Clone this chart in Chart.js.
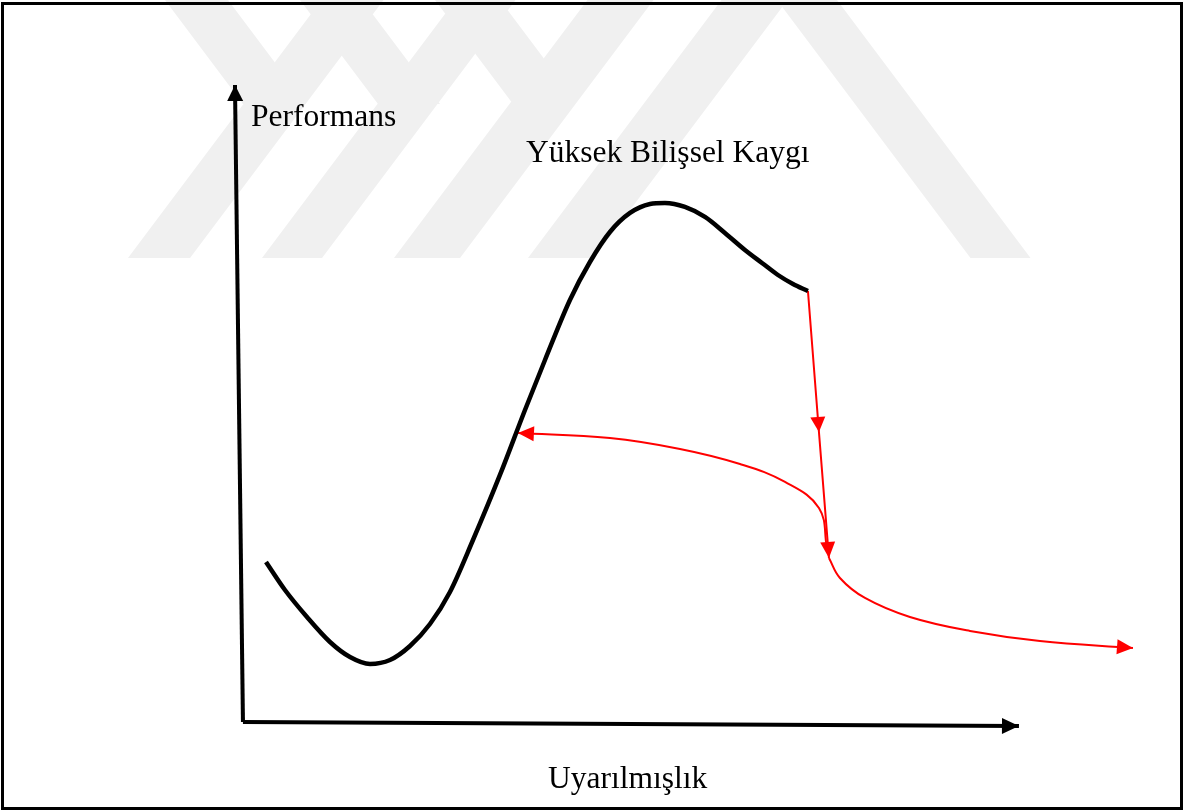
<!DOCTYPE html>
<html lang="tr">
<head>
<meta charset="utf-8">
<title>Performans - Uyarılmışlık</title>
<script src="https://cdn.jsdelivr.net/npm/chart.js@4.4.1/dist/chart.umd.min.js"></script>
<style>
  html, body { margin: 0; padding: 0; background: #fff; }
  #wrap { position: relative; width: 1188px; height: 812px; }
</style>
</head>
<body>
<div id="wrap"><canvas id="grafik"></canvas></div>
<script>
// Uyarılmışlık (x) - Performans (y), keyfi birimler (eksen başlangıcı 0,0)
const egriX = [2.97, 5.42, 8.26, 11.23, 13.81, 16.39, 18.97, 21.55, 24.13, 26.71, 29.68, 33.16, 36.39, 38.97, 42.19, 44.77, 47.35, 49.94, 52.52, 54.45, 57.03, 59.61, 62.19, 64.77, 66.97, 69.03, 70.97, 72.9];
const egriY = [25.12, 20.72, 16.48, 12.56, 10.2, 9.11, 9.73, 11.93, 15.38, 20.41, 28.57, 38.78, 48.98, 56.83, 66.25, 72.21, 76.92, 79.91, 81.32, 81.48, 80.85, 79.28, 76.77, 74.1, 72.06, 70.17, 68.76, 67.66];

// kırmızı düşüş çizgisi (iki ok)
const dususX = [72.9, 74.32, 75.61];
const dususY = [67.66, 45.53, 25.75];

// geri dönüş eğrisi (sola ok)
const donusX = [75.35, 74.32, 69.94, 64.13, 56.39, 47.35, 35.48];
const donusY = [27.32, 33.59, 37.68, 40.5, 42.86, 44.58, 45.37];

// devam eğrisi (sağa ok)
const devamX = [75.61, 77.03, 80.26, 86.06, 93.81, 102.84, 114.84];
const devamY = [25.75, 22.61, 19.47, 16.48, 14.29, 12.72, 11.62];

// eksenler
const eksenYX = [0, -1.03];
const eksenYY = [0, 100];
const eksenXX = [0, 100.13];
const eksenXY = [0, -0.63];

// yazılar
const yazilar = ['Performans', 'Yüksek Bilişsel Kaygı', 'Uyarılmışlık'];
const yaziX = [1.03, 36.52, 39.35];
const yaziY = [93.56, 87.91, -10.36];

function noktalar(xs, ys) {
    return xs.map(function(x, i) { return { x: x, y: ys[i] }; });
}

function ucgen(ctx, x, y, aci, L, W, renk) {
    ctx.save();
    ctx.translate(x, y);
    ctx.rotate(aci);
    ctx.beginPath();
    ctx.moveTo(0, 0);
    ctx.lineTo(-L, -W / 2);
    ctx.lineTo(-L, W / 2);
    ctx.closePath();
    ctx.fillStyle = renk;
    ctx.fill();
    ctx.restore();
}

// ok başları: son iki noktanın yönüne göre üçgen
const okPlugin = {
    id: 'oklar',
    afterDatasetsDraw: function(chart) {
        const ctx = chart.ctx;
        chart.data.datasets.forEach(function(ds, i) {
            if (!ds.okBasi) return;
            const meta = chart.getDatasetMeta(i);
            const n = meta.data.length;
            const p = meta.data[n - 1], q = meta.data[n - 2];
            ucgen(ctx, p.x, p.y, Math.atan2(p.y - q.y, p.x - q.x), ds.okBasi.boy, ds.okBasi.en, ds.borderColor);
        });
        // ara ok (düşüş çizgisinin ortası)
        const meta = chart.getDatasetMeta(1);
        const a = meta.data[0], b = meta.data[1];
        ucgen(ctx, b.x, b.y, Math.atan2(b.y - a.y, b.x - a.x), 15, 15, '#ff0000');
    }
};

// arka plandaki soluk filigran, yazılar ve çerçeve
const arkaPlugin = {
    id: 'arka',
    beforeDatasetsDraw: function(chart) {
        const ctx = chart.ctx;
        ctx.save();
        ctx.fillStyle = '#f0f0f0';
        const k = 0.75, alt = 258;
        // "/" bantlar
        [[128, 190], [262, 322], [394, 460], [528, 594]].forEach(function(b) {
            ctx.beginPath();
            ctx.moveTo(b[0], alt);
            ctx.lineTo(b[1], alt);
            ctx.lineTo(b[1] + k * alt, 0);
            ctx.lineTo(b[0] + k * alt, 0);
            ctx.closePath();
            ctx.fill();
        });
        // "\" kollar (gövdeye kadar)
        [[165, 228, 104], [300, 362, 104], [435, 500, 102]].forEach(function(b) {
            ctx.beginPath();
            ctx.moveTo(b[0], 0);
            ctx.lineTo(b[1], 0);
            ctx.lineTo(b[1] + k * b[2], b[2]);
            ctx.lineTo(b[0] + k * b[2], b[2]);
            ctx.closePath();
            ctx.fill();
        });
        // tam "\" bant
        [[777, 837]].forEach(function(b) {
            ctx.beginPath();
            ctx.moveTo(b[0], 0);
            ctx.lineTo(b[1], 0);
            ctx.lineTo(b[1] + k * alt, alt);
            ctx.lineTo(b[0] + k * alt, alt);
            ctx.closePath();
            ctx.fill();
        });
        ctx.restore();
    },
    afterDraw: function(chart) {
        const ctx = chart.ctx;
        const xs = chart.scales.x, ys = chart.scales.y;
        ctx.save();
        ctx.fillStyle = '#000';
        ctx.font = '31.5px "Liberation Serif", "Times New Roman", serif';
        ctx.textAlign = 'left';
        ctx.textBaseline = 'alphabetic';
        yazilar.forEach(function(t, i) {
            ctx.fillText(t, xs.getPixelForValue(yaziX[i]), ys.getPixelForValue(yaziY[i]));
        });
        ctx.lineWidth = 3;
        ctx.strokeStyle = '#000';
        ctx.strokeRect(2.5, 3.5, 1179, 805);
        ctx.restore();
    }
};

const config = {
    type: 'scatter',
    data: {
        datasets: [
            { data: noktalar(egriX, egriY), showLine: true, borderColor: '#000', borderWidth: 4.5, cubicInterpolationMode: 'monotone' },
            { data: noktalar(dususX, dususY), showLine: true, borderColor: '#ff0000', borderWidth: 2, tension: 0, okBasi: { boy: 16, en: 15 } },
            { data: noktalar(donusX, donusY), showLine: true, borderColor: '#ff0000', borderWidth: 2, tension: 0.4, okBasi: { boy: 16, en: 15 } },
            { data: noktalar(devamX, devamY), showLine: true, borderColor: '#ff0000', borderWidth: 2, tension: 0.4, okBasi: { boy: 16, en: 15 } },
            { data: noktalar(eksenYX, eksenYY), showLine: true, borderColor: '#000', borderWidth: 4, tension: 0, okBasi: { boy: 16, en: 16 } },
            { data: noktalar(eksenXX, eksenXY), showLine: true, borderColor: '#000', borderWidth: 4, tension: 0, okBasi: { boy: 17, en: 16 } }
        ]
    },
    options: {
        responsive: true,
        maintainAspectRatio: false,
        animation: false,
        layout: { padding: 0 },
        elements: { point: { radius: 0, hoverRadius: 0 } },
        plugins: {
            legend: { display: false },
            tooltip: { enabled: false }
        },
        scales: {
            x: { type: 'linear', min: -31.35, max: 121.94, display: false },
            y: { type: 'linear', min: -14.13, max: 113.34, display: false }
        }
    },
    plugins: [arkaPlugin, okPlugin]
};

window.onload = function() {
    new Chart(document.getElementById('grafik'), config);
};
</script>
</body>
</html>
